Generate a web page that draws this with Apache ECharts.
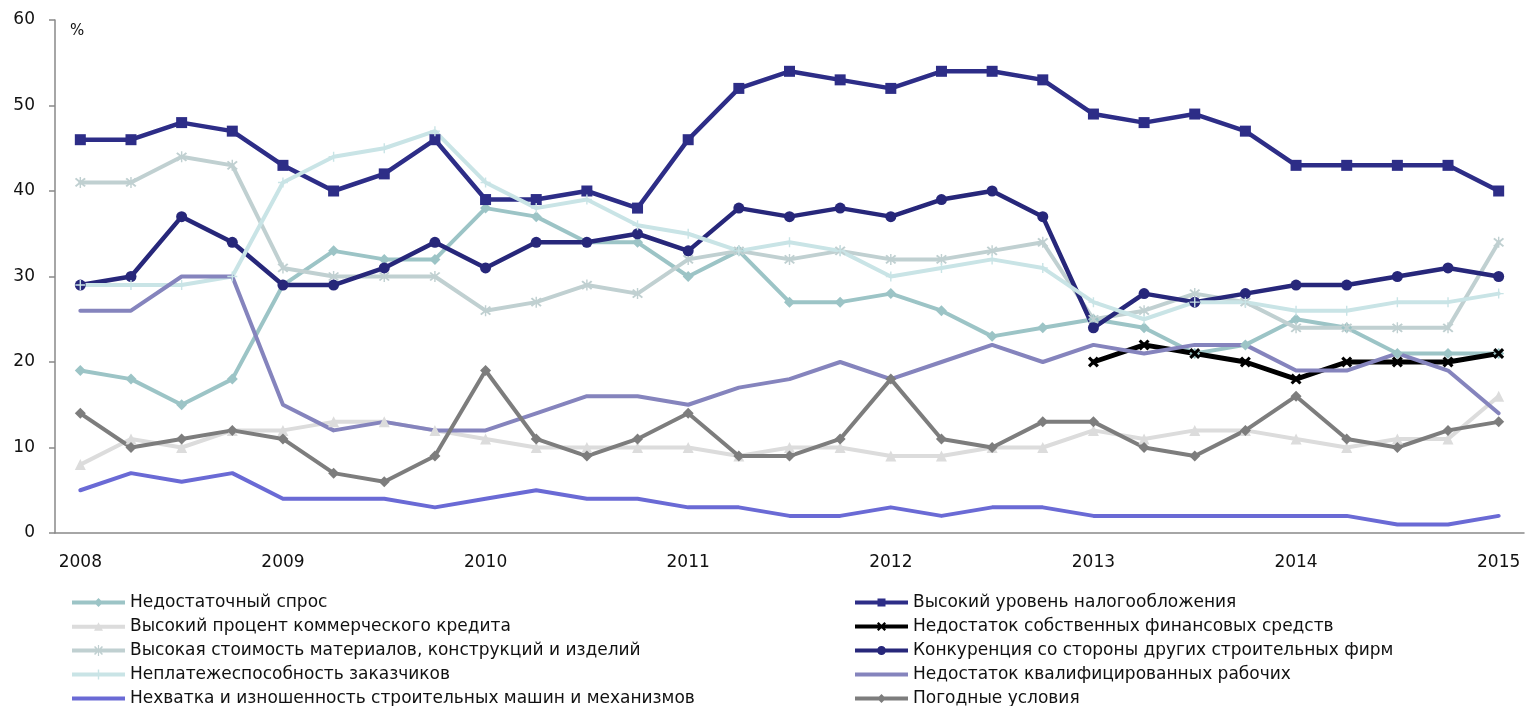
<!DOCTYPE html>
<html>
<head>
<meta charset="utf-8">
<script src="https://cdn.jsdelivr.net/npm/echarts@6/dist/echarts.min.js"></script>
<style>
html,body{margin:0;padding:0;background:#fff;}
#chart{width:1527px;height:706px;}
</style>
</head>
<body>
<div id="chart"></div>
<script>
// Quarterly categories 2008 Q1 .. 2015 Q1
const categories = [];
for (let y = 2008; y <= 2015; y++) {
  for (let q = 1; q <= 4; q++) {
    if (y === 2015 && q > 1) break;
    categories.push(y + ' Q' + q);
  }
}
const yTicks = { min: 0, max: 60, interval: 10 };

const demandLow      = [19,18,15,18,29,33,32,32,38,37,34,34,30,33,27,27,28,26,23,24,25,24,21,22,25,24,21,21,21];
const taxHigh        = [46,46,48,47,43,40,42,46,39,39,40,38,46,52,54,53,52,54,54,53,49,48,49,47,43,43,43,43,40];
const creditRate     = [8,11,10,12,12,13,13,12,11,10,10,10,10,9,10,10,9,9,10,10,12,11,12,12,11,10,11,11,16];
const ownFunds       = [null,null,null,null,null,null,null,null,null,null,null,null,null,null,null,null,null,null,null,null,20,22,21,20,18,20,20,20,21];
const materialsCost  = [41,41,44,43,31,30,30,30,26,27,29,28,32,33,32,33,32,32,33,34,25,26,28,27,24,24,24,24,34];
const competition    = [29,30,37,34,29,29,31,34,31,34,34,35,33,38,37,38,37,39,40,37,24,28,27,28,29,29,30,31,30];
const insolvency     = [29,29,29,30,41,44,45,47,41,38,39,36,35,33,34,33,30,31,32,31,27,25,27,27,26,26,27,27,28];
const skilledLack    = [26,26,30,30,15,12,13,12,12,14,16,16,15,17,18,20,18,20,22,20,22,21,22,22,19,19,21,19,14];
const machinery      = [5,7,6,7,4,4,4,3,4,5,4,4,3,3,2,2,3,2,3,3,2,2,2,2,2,2,1,1,2];
const weather        = [14,10,11,12,11,7,6,9,19,11,9,11,14,9,9,11,18,11,10,13,13,10,9,12,16,11,10,12,13];

const names = [
  'Недостаточный спрос',
  'Высокий уровень налогообложения',
  'Высокий процент коммерческого кредита',
  'Недостаток собственных финансовых средств',
  'Высокая стоимость материалов, конструкций и изделий',
  'Конкуренция со стороны других строительных фирм',
  'Неплатежеспособность заказчиков',
  'Недостаток квалифицированных рабочих',
  'Нехватка и изношенность строительных машин и механизмов',
  'Погодные условия'
];

// marker shapes
const SYM_X = 'path://M0,2 L2,0 L10,8 L8,10 Z M8,0 L10,2 L2,10 L0,8 Z';
const SYM_AST = 'path://M0,1.3 L1.3,0 L10,8.7 L8.7,10 Z M8.7,0 L10,1.3 L1.3,10 L0,8.7 Z M4.35,-1 L5.65,-1 L5.65,11 L4.35,11 Z';
const SYM_PLUS = 'path://M4.3,0 L5.7,0 L5.7,10 L4.3,10 Z M0,4.3 L10,4.3 L10,5.7 L0,5.7 Z';

// legend icons: thick line + marker (53 x 11 box), marker centred at 26.5
const LINE = 'M0,3.4 L53,3.4 L53,7.6 L0,7.6 Z';
const ICON = {
  diamond: 'path://' + LINE + ' M26.5,1 L31,5.5 L26.5,10 L22,5.5 Z',
  rect: 'path://' + LINE + ' M22.5,1.5 L30.5,1.5 L30.5,9.5 L22.5,9.5 Z',
  triangle: 'path://' + LINE + ' M26.5,1 L31,9.5 L22,9.5 Z',
  x: 'path://' + LINE + ' M22,2.6 L23.6,1 L31,8.4 L29.4,10 Z M29.4,1 L31,2.6 L23.6,10 L22,8.4 Z',
  ast: 'path://' + LINE + ' M22,2.1 L23.1,1 L31,8.9 L29.9,10 Z M29.9,1 L31,2.1 L23.1,10 L22,8.9 Z M25.9,0 L27.1,0 L27.1,11 L25.9,11 Z',
  circle: 'path://' + LINE + ' M22,5.5 A4.5,4.5 0 1 1 31,5.5 A4.5,4.5 0 1 1 22,5.5 Z',
  plus: 'path://' + LINE + ' M25.8,0.5 L27.2,0.5 L27.2,10.5 L25.8,10.5 Z',
  line: 'path://' + LINE
};

function mk(name, data, color, symbol, size, width) {
  return {
    name: name, type: 'line', data: data,
    symbol: symbol || 'none', symbolSize: size || 0,
    showSymbol: !!symbol,
    lineStyle: { color: color, width: width || 4, cap: 'round', join: 'round' },
    itemStyle: { color: color },
    emphasis: { disabled: true },
    animation: false
  };
}

const series = [
  mk(names[0], demandLow, '#9CC4C6', 'diamond', 11, 4),
  mk(names[1], taxHigh, '#2D2D87', 'rect', 11, 4.5),
  mk(names[2], creditRate, '#DCDCDC', 'triangle', 11, 4),
  mk(names[3], ownFunds, '#000000', SYM_X, 11, 5),
  mk(names[4], materialsCost, '#C0D0D1', SYM_AST, 11, 4),
  mk(names[5], competition, '#27277A', 'circle', 11, 4.5),
  mk(names[6], insolvency, '#C9E4E6', SYM_PLUS, 10, 4),
  mk(names[7], skilledLack, '#8584BD', null, 0, 4),
  mk(names[8], machinery, '#6A6AD5', null, 0, 4),
  mk(names[9], weather, '#7D7D7D', 'diamond', 11, 4)
];

const FONT = '"DejaVu Sans", "Liberation Sans", sans-serif';
const legendText = { fontFamily: FONT, fontSize: 17, color: '#111', lineHeight: 14 };
const legendBase = {
  orient: 'vertical', top: 594, height: 130, padding: 0,
  itemWidth: 53, itemHeight: 14, itemGap: 7, symbolKeepAspect: true,
  textStyle: legendText, selectedMode: false
};

const option = {
  animation: false,
  backgroundColor: '#fff',
  grid: { left: 55, right: 3, top: 20, bottom: 173, containLabel: false },
  xAxis: {
    type: 'category', data: categories, boundaryGap: true,
    axisLine: { lineStyle: { color: '#898989', width: 1.5 } },
    axisTick: { interval: 3, length: 6, lineStyle: { color: '#898989', width: 1.5 } },
    axisLabel: {
      interval: 3, margin: 21, color: '#111', fontSize: 17,
      fontFamily: FONT,
      formatter: v => v.slice(0, 4)
    }
  },
  yAxis: {
    type: 'value', min: yTicks.min, max: yTicks.max, interval: yTicks.interval,
    axisLine: { show: true, lineStyle: { color: '#898989', width: 1.5 } },
    axisTick: { show: true, length: 6, lineStyle: { color: '#898989', width: 1.5 } },
    splitLine: { show: false },
    axisLabel: { margin: 20, color: '#111', fontSize: 17, fontFamily: FONT }
  },
  graphic: [
    { type: 'text', left: 70, top: 24, style: { text: '%', fontSize: 15, fill: '#111', fontFamily: FONT } }
  ],
  legend: [
    Object.assign({}, legendBase, {
      left: 72,
      data: [
        { name: names[0], icon: ICON.diamond },
        { name: names[2], icon: ICON.triangle },
        { name: names[4], icon: ICON.ast },
        { name: names[6], icon: ICON.plus },
        { name: names[8], icon: ICON.line }
      ]
    }),
    Object.assign({}, legendBase, {
      left: 855,
      data: [
        { name: names[1], icon: ICON.rect },
        { name: names[3], icon: ICON.x },
        { name: names[5], icon: ICON.circle },
        { name: names[7], icon: ICON.line },
        { name: names[9], icon: ICON.diamond }
      ]
    })
  ],
  series: series
};

const chart = echarts.init(document.getElementById('chart'), null, { renderer: 'canvas' });
chart.setOption(option);
</script>
</body>
</html>
